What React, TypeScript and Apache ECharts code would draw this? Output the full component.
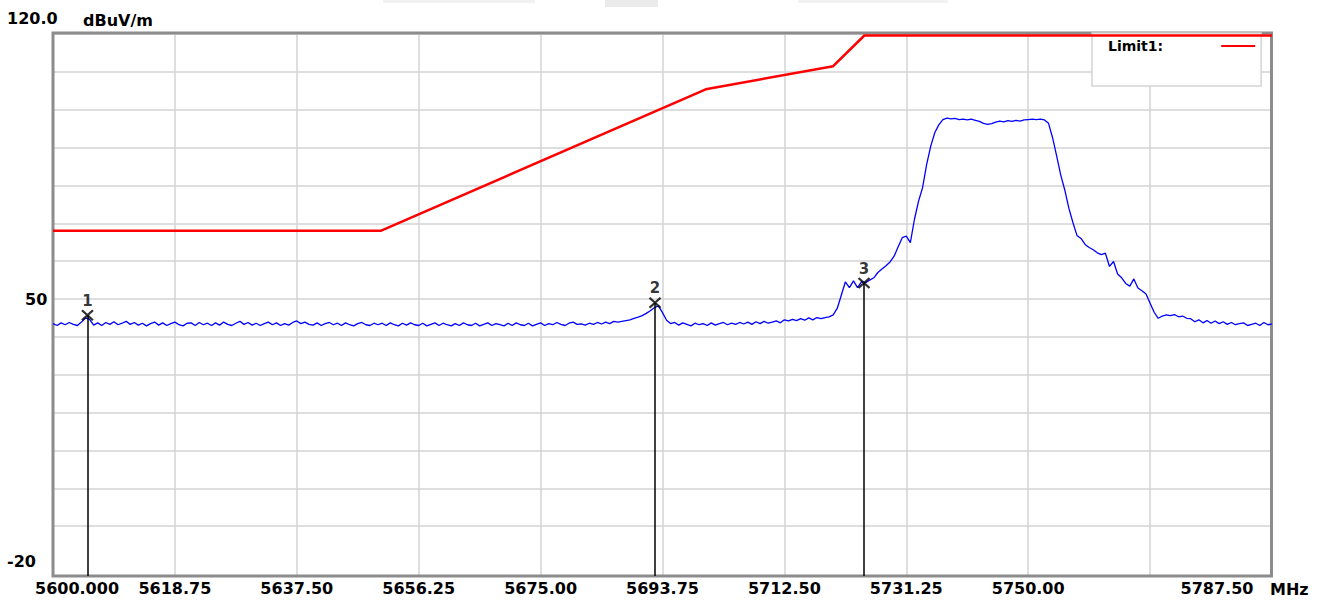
import React, { useEffect, useRef } from 'react';
import * as echarts from 'echarts';

// ---------- data ----------
const FREQ_START = 5600;
const FREQ_STOP = 5787.5;
const FREQ_STEP = 0.625; // sweep step of the trace points (MHz)
const X_TICK = 18.75;
const X_HIDDEN_LABELS = [5768.75];
const X_UNIT = 'MHz';
const Y_MIN = -20;
const Y_MAX = 120;
const Y_TICK = 10;
const Y_LABELS = [120, 50, -20];
const Y_UNIT = 'dBuV/m';

// measured trace (dBuV/m), one value per sweep step
const TRACE = [
  43.5, 43.0, 43.7, 43.2, 43.8, 43.3, 43.0, 43.9, 45.0, 44.6,
  43.1, 43.7, 43.0, 43.8, 43.3, 44.0, 43.2, 43.6, 44.1, 43.3,
  43.8, 43.1, 43.6, 42.9, 43.5, 43.9, 43.1, 43.7, 43.0, 43.5,
  43.9, 43.2, 42.9, 43.6, 43.7, 43.0, 43.8, 43.2, 43.6, 43.0,
  43.7, 43.1, 43.9, 43.3, 43.0, 43.6, 44.1, 43.3, 43.8, 43.1,
  43.6, 43.0, 43.5, 43.9, 43.2, 43.7, 43.0, 43.5, 43.1, 43.8,
  44.2, 43.5, 43.9, 43.3, 43.1, 43.7, 43.0, 43.5, 43.8, 43.2,
  43.6, 43.0, 43.7, 43.2, 42.9, 43.5, 43.8, 43.2, 43.0, 43.6,
  43.2, 43.6, 43.0, 43.7, 43.2, 42.9, 43.6, 43.1, 43.7, 43.2,
  43.0, 43.6, 42.9, 43.3, 43.7, 43.0, 43.6, 43.2, 42.9, 43.5,
  43.0, 43.7, 43.2, 43.0, 43.6, 42.9, 43.3, 43.7, 43.0, 43.5,
  43.2, 42.9, 43.6, 43.0, 43.7, 43.2, 43.0, 43.6, 42.9, 43.3,
  43.7, 43.0, 43.5, 43.2, 43.8, 43.3, 43.0, 43.6, 43.9, 43.3,
  43.4, 43.1, 43.6, 43.3, 43.8, 43.4, 43.9, 43.5, 44.1, 43.9,
  44.1, 44.3, 44.5, 44.9, 45.2, 45.6, 46.2, 46.9, 47.7, 48.2,
  46.4, 44.4, 43.5, 43.8, 43.1, 43.7, 43.3, 42.9, 43.6, 43.2,
  43.5, 43.0, 43.7, 43.1, 43.5, 43.8, 43.2, 43.6, 43.3, 43.8,
  43.4, 43.9, 43.3, 44.0, 43.5, 44.1, 43.6, 43.9, 44.2, 43.7,
  44.5, 44.2, 44.6, 44.3, 44.8, 44.4, 45.0, 44.5, 45.1, 44.8,
  45.1, 45.3, 45.8, 47.5, 51.0, 54.5, 53.0, 54.8, 53.0, 54.6,
  54.3, 55.0, 55.6, 57.0, 57.9, 58.8, 59.8, 61.3, 63.8, 66.2,
  66.6, 64.9, 71.0, 75.8, 79.4, 85.5, 90.3, 93.9, 96.0, 97.4,
  97.8, 97.6, 97.7, 97.4, 97.5, 97.3, 97.5, 97.2, 96.9, 96.4,
  96.1, 96.3, 96.7, 97.0, 96.8, 97.1, 96.9, 97.2, 97.0, 97.3,
  97.4, 97.5, 97.4, 97.5, 97.3, 96.4, 92.6, 87.8, 82.8, 78.8,
  74.0, 70.2, 66.8, 66.0, 64.4, 63.6, 63.0, 62.2, 61.7, 62.1,
  58.6, 59.9, 56.6, 55.6, 54.1, 53.4, 55.3, 52.9, 52.2, 51.3,
  48.9, 46.5, 44.9, 45.5, 45.8, 45.6, 45.9, 45.3, 45.5, 44.9,
  44.8, 44.0, 44.5, 43.7, 44.3, 43.6, 44.2, 43.5, 44.0, 43.3,
  43.8, 43.2, 43.5, 43.7, 43.0, 43.3, 43.6, 43.0, 43.8, 43.2,
  43.4,
];

// limit line (as drawn, clipped at the top of the plot)
const LIMIT_NAME = 'Limit1';
const LIMIT_FREQ = [5600, 5650.4, 5700.4, 5720, 5724.8, 5787.5];
const LIMIT_VAL = [68.0, 68.0, 105.4, 111.5, 119.6, 119.6];

// markers
const MARKER_LABELS = ['1', '2', '3'];
const MARKER_FREQ = [5605.3, 5692.6, 5724.75];
const MARKER_VAL = [45.7, 49.0, 54.2];

// ---------- layout / style ----------
const W = 1327;
const H = 600;
const LEFT = 53;
const RIGHT_EDGE = 1272;
const TOP = 34;
const PLOT_H = 530; // -20 .. 120
const FRAME_H = 542; // frame extends below -20
const Y_FRAME_MIN = Y_MAX - (Y_MAX - Y_MIN) * (FRAME_H / PLOT_H);
const GRID_COLOR = '#d3d3d3';
const FONT = 'DejaVu Sans';

const near = (a: number, b: number) => Math.abs(a - b) < 1e-6;

function buildOption(): any {
  const traceData = TRACE.map((v, i) => [FREQ_START + i * FREQ_STEP, v]);
  const limitData = LIMIT_FREQ.map((f, i) => [f, LIMIT_VAL[i]]);
  const markerData = MARKER_FREQ.map((f, i) => [f, MARKER_VAL[i], MARKER_LABELS[i]]);

  const boldText = { fontFamily: FONT, fontWeight: 'bold', fontSize: 16, color: '#000' };

  return {
    animation: false,
    backgroundColor: '#ffffff',
    grid: [
      { left: LEFT, top: TOP, width: RIGHT_EDGE - LEFT, height: PLOT_H },
      { left: LEFT, top: TOP, width: RIGHT_EDGE - LEFT, height: FRAME_H },
    ],
    xAxis: [
      { type: 'value', gridIndex: 0, min: FREQ_START, max: FREQ_STOP, show: false },
      {
        type: 'value',
        gridIndex: 1,
        min: FREQ_START,
        max: FREQ_STOP,
        interval: X_TICK,
        axisLine: { show: false },
        axisTick: { show: false },
        splitLine: { show: true, lineStyle: { color: GRID_COLOR, width: 1.5 } },
        axisLabel: {
          ...boldText,
          margin: 4,
          formatter: (v: number) => {
            if (near(v, FREQ_START)) return `{first|${v.toFixed(3)}}`;
            if (near(v, FREQ_STOP)) return `{last|${v.toFixed(2)}}`;
            if (X_HIDDEN_LABELS.some((h) => near(h, v))) return '';
            return v.toFixed(2);
          },
          rich: {
            first: { ...boldText, padding: [0, 0, 0, 48] },
            last: { ...boldText, padding: [0, 110, 0, 0] },
          },
        },
      },
    ],
    yAxis: [
      {
        type: 'value',
        gridIndex: 0,
        min: Y_MIN,
        max: Y_MAX,
        interval: Y_TICK,
        name: Y_UNIT,
        nameLocation: 'end',
        nameGap: 6,
        nameTextStyle: { ...boldText, align: 'left', padding: [0, 0, 0, 30] },
        axisLine: { show: false },
        axisTick: { show: false },
        splitLine: { show: true, showMinLine: false, lineStyle: { color: GRID_COLOR, width: 1.5 } },
        axisLabel: {
          ...boldText,
          align: 'left',
          margin: 46,
          formatter: (v: number) => {
            if (!Y_LABELS.some((l) => near(l, v))) return '';
            if (near(v, Y_MAX)) return `{t|${v.toFixed(1)}}`;
            if (near(v, Y_MIN)) return `{b|${v}}`;
            return `{m|${v}}`;
          },
          rich: {
            t: { ...boldText, padding: [0, 0, 31, 0] },
            m: { ...boldText, padding: [0, 0, 0, 18] },
            b: { ...boldText, padding: [0, 0, 6, 0] },
          },
        },
      },
      {
        type: 'value',
        gridIndex: 1,
        min: Y_FRAME_MIN,
        max: Y_MAX,
        show: false,
        splitLine: { show: false },
      },
    ],
    legend: {
      data: [{ name: LIMIT_NAME, icon: 'rect' }],
      left: 1092,
      top: 33,
      orient: 'vertical',
      align: 'right',
      itemWidth: 34,
      itemHeight: 2,
      padding: [6, 6, 33, 16],
      backgroundColor: '#ffffff',
      borderColor: '#d4d4d4',
      borderWidth: 1.5,
      selectedMode: false,
      z: 4,
      formatter: (n: string) => `{a|${n}:}{g| }`,
      textStyle: {
        rich: {
          a: { fontFamily: FONT, fontWeight: 'bold', fontSize: 14, color: '#000' },
          g: { width: 53 },
        },
      },
    },
    graphic: [
      { type: 'rect', z: 1, shape: { x: 383, y: 0, width: 152, height: 3 }, style: { fill: '#f2f2f2' } },
      { type: 'rect', z: 1, shape: { x: 605, y: 0, width: 53, height: 7 }, style: { fill: '#ebebeb' } },
      { type: 'rect', z: 1, shape: { x: 798, y: 0, width: 150, height: 3 }, style: { fill: '#f2f2f2' } },
      {
        type: 'rect',
        z: 1,
        silent: true,
        shape: { x: LEFT, y: TOP - 1, width: RIGHT_EDGE - LEFT - 0.5, height: FRAME_H + 1 },
        style: { fill: 'none', stroke: '#8c8c8c', lineWidth: 3 },
      },
      {
        type: 'text',
        z: 5,
        x: RIGHT_EDGE - 2,
        y: 589,
        style: {
          text: X_UNIT,
          fontFamily: FONT,
          fontWeight: 'bold',
          fontSize: 16,
          fill: '#000',
          verticalAlign: 'middle',
          align: 'left',
        },
      },
    ],
    series: [
      {
        name: 'Trace',
        type: 'line',
        xAxisIndex: 1,
        yAxisIndex: 1,
        data: traceData,
        symbol: 'none',
        color: '#0000ff',
        lineStyle: { color: '#0000ff', width: 1.3 },
        z: 3,
      },
      {
        name: LIMIT_NAME,
        type: 'line',
        xAxisIndex: 1,
        yAxisIndex: 1,
        data: limitData,
        symbol: 'none',
        clip: false,
        color: '#ff0000',
        itemStyle: { color: '#ff0000' },
        lineStyle: { color: '#ff0000', width: 2.5 },
        z: 5,
      },
      {
        name: 'Markers',
        type: 'scatter',
        xAxisIndex: 1,
        yAxisIndex: 1,
        data: markerData,
        symbol: 'path://M0,0L10,10M10,0L0,10',
        symbolSize: [11, 10],
        itemStyle: { color: 'rgba(0,0,0,0)', borderColor: '#000', borderWidth: 2.2 },
        label: {
          show: true,
          position: 'top',
          distance: 1,
          formatter: (p: any) => p.data[2],
          fontFamily: FONT,
          fontWeight: 'bold',
          fontSize: 15,
          color: '#000',
        },
        z: 6,
        markLine: {
          silent: true,
          symbol: ['none', 'none'],
          label: { show: false },
          lineStyle: { color: '#000', width: 1.5, type: 'solid' },
          data: MARKER_FREQ.map((f, i) => [
            { coord: [f, MARKER_VAL[i]] },
            { coord: [f, Y_FRAME_MIN] },
          ]),
        },
      },
    ],
  };
}

export default function App() {
  const ref = useRef<HTMLDivElement>(null);
  useEffect(() => {
    if (!ref.current) return;
    const chart = echarts.init(ref.current, null, { renderer: 'svg' });
    chart.setOption(buildOption());
    return () => chart.dispose();
  }, []);
  return (
    <div
      ref={ref}
      style={{ position: 'fixed', left: 0, top: 0, width: W, height: H, background: '#fff' }}
    />
  );
}
